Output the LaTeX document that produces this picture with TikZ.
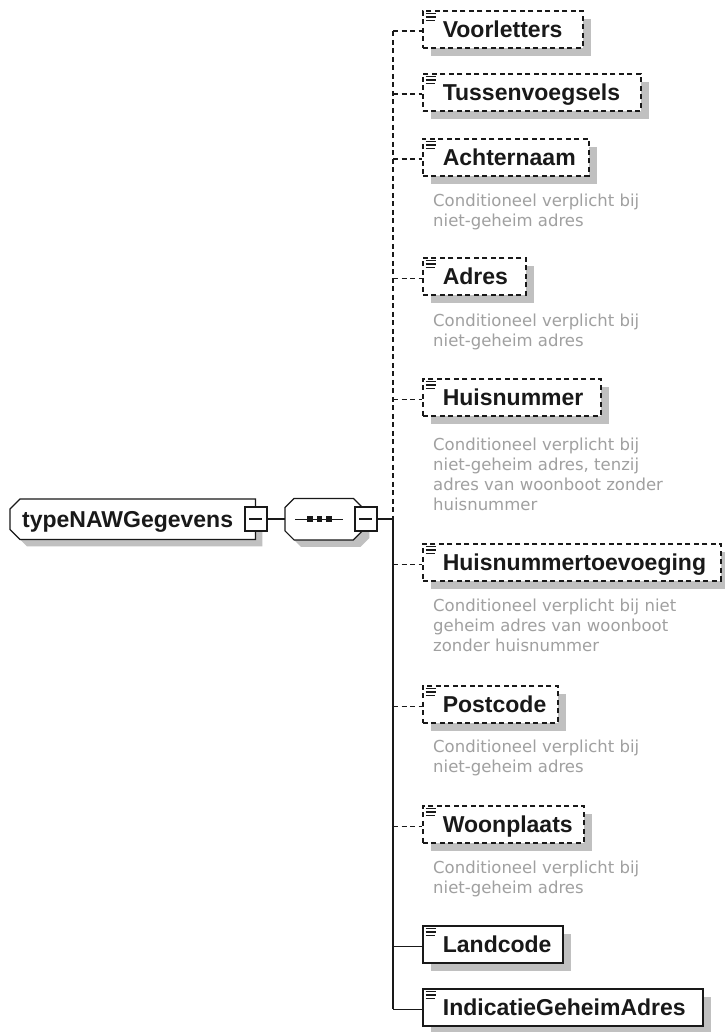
\documentclass[tikz,border=0pt]{standalone}
\usepackage{fontspec}
\setmainfont{Liberation Sans}
\newfontfamily\annfont{DejaVu Sans}
\usetikzlibrary{shadows,backgrounds}
\definecolor{shade}{RGB}{192,192,192}
\definecolor{anncol}{RGB}{160,160,160}
\definecolor{ink}{RGB}{25,25,25}
\newcommand{\eltext}[2]{\makebox[#1][l]{\hspace{20pt}#2}}
\tikzset{
  elembase/.style={anchor=north west, inner xsep=0pt, inner ysep=0pt, minimum height=37pt,
    text height=16pt, text depth=0pt, font=\fontsize{23}{27}\selectfont\bfseries,
    fill=white, draw=ink, text=ink,
    drop shadow={shadow xshift=8pt, shadow yshift=-8pt, fill=shade, opacity=1}},
  optbox/.style={elembase, line width=1.6pt, dash pattern=on 5pt off 3.5pt},
  reqbox/.style={elembase, line width=1.8pt},
  optline/.style={line width=1.6pt, dash pattern=on 5pt off 3.5pt, draw=ink},
  reqline/.style={line width=1.6pt, draw=ink},
  iconline/.style={line width=1.1pt, draw=ink},
  minusbox/.style={minimum width=22pt, minimum height=24pt, inner sep=0pt, fill=white, draw=ink, line width=1.2pt},
  outline/.style={draw=ink, line width=1.2pt, fill=white,
    preaction={fill=shade, transform canvas={shift={(7pt,-7pt)}}}},
  ann/.style={anchor=north west, inner sep=0pt, align=left,
    font=\annfont\fontsize{16.5}{20}\selectfont, text=anncol},
}
\begin{document}
\begin{tikzpicture}[x=1pt,y=-1pt]
\useasboundingbox (0,0) rectangle (724,1032);
% root and sequence holders
\node[anchor=north west, inner sep=0pt, minimum height=40pt, text height=16pt, text depth=0pt,
  font=\fontsize{23}{27}\selectfont\bfseries, text=ink] (root) at (10,499)
  {\makebox[245pt][l]{\hspace{12pt}typeNAWGegevens}};
\node[anchor=north west, inner sep=0pt, minimum width=77pt, minimum height=41pt] (seq) at (285,498.5) {};
\begin{pgfonlayer}{background}
  \fill[white] (0,0) rectangle (724,1032);
  \draw[outline] ([xshift=10pt]root.north west) -- (root.north east) -- (root.south east)
     -- ([xshift=10pt]root.south west) -- ([yshift=10pt]root.south west)
     -- ([yshift=-10pt]root.north west) -- cycle;
  \draw[outline] ([xshift=9pt]seq.north west) -- ([xshift=-9pt]seq.north east)
     -- ([yshift=-9pt]seq.north east) -- ([yshift=9pt]seq.south east)
     -- ([xshift=-9pt]seq.south east) -- ([xshift=9pt]seq.south west)
     -- ([yshift=9pt]seq.south west) -- ([yshift=-9pt]seq.north west) -- cycle;
\end{pgfonlayer}
% sequence compositor symbol
\draw[line width=1.3pt, draw=ink] ([xshift=10pt]seq.west) -- ([xshift=58pt]seq.west);
\foreach \dx in {25,34.5,44}
  \fill[ink] ([xshift=\dx pt]seq.west) ++(-2.8pt,-2.8pt) rectangle ++(5.6pt,5.6pt);
% minus boxes
\node[minusbox] (rm) at (256,519) {};
\node[minusbox] (sm) at (366,519) {};
\foreach \m in {rm,sm}{
  \draw[line width=2.6pt, draw=ink] ([xshift=-0.7pt]\m.north east) -- ([xshift=-0.7pt,yshift=0.7pt]\m.south east)
     -- ([yshift=0.7pt]\m.south west);
  \draw[line width=1.2pt, draw=ink] ([xshift=5pt]\m.west) -- ([xshift=-6pt]\m.east);
}
\coordinate (tj) at (393,519);
\draw[reqline] (rm.east) -- (rm.east -| seq.west);
\draw[reqline] (sm.east) -- (tj);
% child elements
\node[optbox] (voor) at (422,10)  {\eltext{160pt}{Voorletters}};
\node[optbox] (tuss) at (422,73)  {\eltext{218pt}{Tussenvoegsels}};
\node[optbox] (acht) at (422,138) {\eltext{166pt}{Achternaam}};
\node[optbox] (adres) at (422,257) {\eltext{103pt}{Adres}};
\node[optbox] (huis) at (422,378) {\eltext{178pt}{Huisnummer}};
\node[optbox] (toev) at (422,543) {\eltext{298pt}{Huisnummertoevoeging}};
\node[optbox] (post) at (422,685) {\eltext{135pt}{Postcode}};
\node[optbox] (woon) at (422,805) {\eltext{161pt}{Woonplaats}};
\node[reqbox] (land) at (422,925) {\eltext{140pt}{Landcode}};
\node[reqbox] (ind)  at (422,988) {\eltext{280pt}{IndicatieGeheimAdres}};
\foreach \n in {voor,tuss,acht,adres,huis,toev,post,woon,land,ind}{
  \draw[iconline] ([xshift=3.5pt,yshift=-3.5pt]\n.north west) -- ++(10pt,0pt);
  \draw[iconline] ([xshift=3.5pt,yshift=-7pt]\n.north west) -- ++(10pt,0pt);
  \draw[iconline] ([xshift=3.5pt,yshift=-10.5pt]\n.north west) -- ++(9pt,0pt);
}
% annotations
\node[ann] (a1) at (433,192.5) {\strut Conditioneel verplicht bij\\niet-geheim adres};
\node[ann] (a2) at (433,312.5) {\strut Conditioneel verplicht bij\\niet-geheim adres};
\node[ann] (a3) at (433,436.5) {\strut Conditioneel verplicht bij\\niet-geheim adres, tenzij\\adres van woonboot zonder\\huisnummer};
\node[ann] (a4) at (433,597.5) {\strut Conditioneel verplicht bij niet\\geheim adres van woonboot\\zonder huisnummer};
\node[ann] (a5) at (433,738.5) {\strut Conditioneel verplicht bij\\niet-geheim adres};
\node[ann] (a6) at (433,859.5) {\strut Conditioneel verplicht bij\\niet-geheim adres};
% trunk
\draw[optline] ([yshift=-2pt]voor.west -| tj) -- (tj);
\draw[reqline] (tj) -- ([yshift=-2pt]ind.west -| tj);
% branches
\foreach \n in {voor,tuss,acht,adres,huis,toev,post,woon}
  \draw[optline] ([yshift=-2pt]\n.west -| tj) -- ([yshift=-2pt]\n.west);
\foreach \n in {land,ind}
  \draw[reqline] ([yshift=-2pt]\n.west -| tj) -- ([yshift=-2pt]\n.west);
\end{tikzpicture}
\end{document}
